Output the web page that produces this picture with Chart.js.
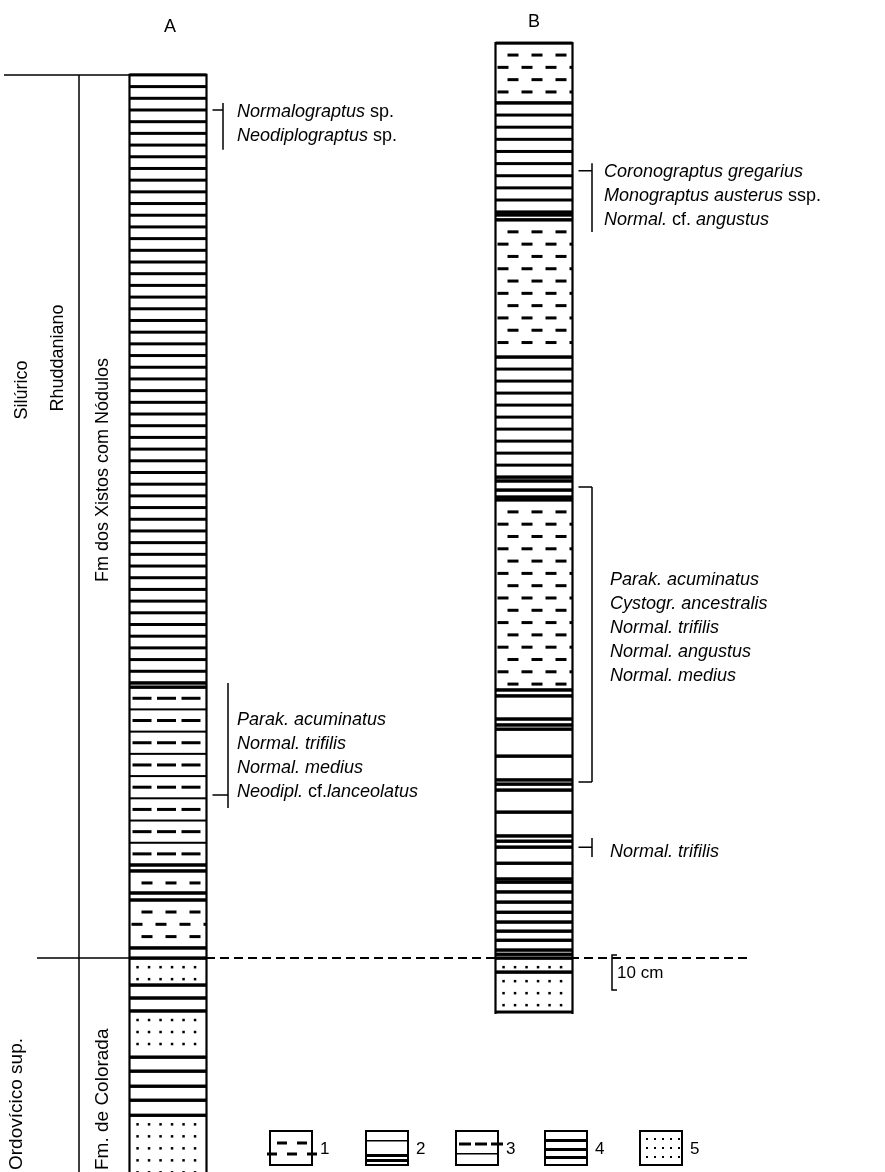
<!DOCTYPE html>
<html>
<head>
<meta charset="utf-8">
<script src="https://cdn.jsdelivr.net/npm/chart.js@4.4.1/dist/chart.umd.min.js"></script>
<style>
  html, body { margin: 0; padding: 0; background: #fff; }
  #wrap { width: 885px; height: 1172px; }
</style>
</head>
<body>
<div id="wrap"><canvas id="logChart" width="885" height="1172"></canvas></div>
<script>
// Stratigraphic logs A and B - heights in cm above the Ordovician/Silurian boundary
// lithology codes: 1..5 as in the legend
const columns = ['A', 'B'];

// unit boundaries, top to bottom (cm); unit i spans bounds[i] .. bounds[i+1]
const colA_bounds = [252.3, 78.6, 77.4, 26.6, 24.9, 18.6, 16.6, 2.9, 0, -7.7, -11.4, -15.1, -28.3, -32.3, -36.6, -40.6, -44.9, -63.4];
const colA_lith   = [4, 2, 3, 2, 1, 2, 1, 2, 5, 2, 2, 5, 2, 2, 2, 2, 5];

const colB_bounds = [261.4, 244.3, 213.1, 212.3, 210.9, 171.7, 137.4, 136.3, 133.7, 131.7, 130.9,
  76.6, 74.9, 68.3, 66.6, 65.4, 57.7, 50.9, 49.7, 48.0, 41.7, 34.9, 33.4, 31.7, 27.1, 22.6, 21.7,
  18.9, 16.0, 13.1, 10.3, 7.7, 5.1, 2.3, 1.1, 0, -4.0, -15.4];
const colB_lith   = [1, 4, 2, 2, 1, 4, 2, 2, 2, 2, 1,
  2, 2, 2, 2, 2, 2, 2, 2, 2, 2, 2, 2, 2, 2, 2, 2, 2, 2, 2, 2, 2, 2, 2, 2, 5, 5];

const lithLabels = ['1', '2', '3', '4', '5'];

// graptolite horizons (cm); a range has different top and base
const fossilCol  = ['A', 'A', 'B', 'B', 'B'];
const fossilTop  = [242.3, 46.6, 224.9, 134.6, 31.7];
const fossilBase = [242.3, 46.6, 224.9, 50.3, 31.7];
// *...* = italic part
const fossilTaxa = [
  ['*Normalograptus* sp.', '*Neodiplograptus* sp.'],
  ['*Parak. acuminatus*', '*Normal. trifilis*', '*Normal. medius*', '*Neodipl.* cf.*lanceolatus*'],
  ['*Coronograptus gregarius*', '*Monograptus austerus* ssp.', '*Normal.* cf. *angustus*'],
  ['*Parak. acuminatus*', '*Cystogr. ancestralis*', '*Normal. trifilis*', '*Normal. angustus*', '*Normal. medius*'],
  ['*Normal. trifilis*']
];

const periodLabels = ['Silúrico', 'Ordovícico sup.'];
const stageLabels = ['Rhuddaniano'];
const formationLabels = ['Fm dos Xistos com Nódulos', 'Fm. de Colorada'];
const scaleBarCm = 10;

// ---- layout (pixels / cm on the y scale) ----
const Y_MIN = -61.1, Y_MAX = 273.7;
const COL_X = { A: 168, B: 534 };
const COL_W = 77;
// bracket + label layout for each fossil group
const fossilBracket = [[244.3, 230.9], [78.6, 42.9], [227.1, 207.4], [134.6, 50.3], [34.3, 28.9]];
const fossilBracketX = [223, 228, 592, 592, 592];
const fossilTextX = [237, 237, 604, 610, 610];
const fossilTextY = [241.7, 68.0, 224.6, 108.0, 30.3];
const LINE_H = 24;
const FONT = '"Liberation Sans", Arial, sans-serif';

// ---- build datasets: one per lithology ----
function unitsOf(col, bounds, liths) {
  return liths.map((l, i) => ({ x: COL_X[col], y: [bounds[i + 1], bounds[i]], lith: l }));
}
const allUnits = unitsOf('A', colA_bounds, colA_lith).concat(unitsOf('B', colB_bounds, colB_lith));

const datasets = lithLabels.map((lab, k) => ({
  label: lab,
  lith: k + 1,
  data: allUnits.filter(u => u.lith === k + 1).map(u => ({ x: u.x, y: u.y })),
  backgroundColor: '#ffffff',
  borderWidth: 0,
  grouped: false,
  barThickness: COL_W
}));

// ---- pattern drawing ----
function dashRow(ctx, L, R, y, offset, len, period, thick) {
  for (let x = L + offset; x < R; x += period) ctx.fillRect(x, y - thick / 2, len, thick);
}
function drawLith(ctx, L, T, R, B, lith) {
  const h = B - T;
  ctx.save();
  ctx.beginPath(); ctx.rect(L, T, R - L, h); ctx.clip();
  ctx.fillStyle = '#000';
  if (lith === 1) {
    let row = 0;
    for (let y = T + 12; y < B - 3; y += 12.3, row++) dashRow(ctx, L, R, y, row % 2 ? 2 : 12, 11, 24, 3);
  } else if (lith === 3) {
    const n = Math.max(1, Math.round(h / 22.3)), step = h / n;
    for (let k = 0; k < n; k++) {
      if (k > 0) ctx.fillRect(L, T + k * step - 1, R - L, 2);
      dashRow(ctx, L, R, T + (k + 0.5) * step, 3, 19, 24.5, 3);
    }
  } else if (lith === 4) {
    const n = Math.max(1, Math.round(h / 11.6)), step = h / n;
    for (let k = 1; k < n; k++) ctx.fillRect(L, T + k * step - 1.5, R - L, 3);
  } else if (lith === 5) {
    for (let y = T + 9; y < B - 2; y += 12)
      for (let x = L + 8; x < R - 2; x += 11.5) ctx.fillRect(x - 1.2, y - 1.2, 2.5, 2.5);
  }
  ctx.restore();
  ctx.fillStyle = '#000';
  ctx.fillRect(L, T - 1.5, R - L, 3);
  ctx.fillRect(L, B - 1.5, R - L, 3);
}

const lithPlugin = {
  id: 'lith',
  beforeDatasetsDraw(chart) {
    const { ctx, scales: { x, y } } = chart;
    const y0 = y.getPixelForValue(0);
    ctx.save();
    ctx.strokeStyle = '#000';
    ctx.lineWidth = 2;
    ctx.setLineDash([9, 5]);
    ctx.beginPath(); ctx.moveTo(x.getPixelForValue(206), y0); ctx.lineTo(x.getPixelForValue(752), y0); ctx.stroke();
    ctx.restore();
  },
  afterDatasetsDraw(chart) {
    const { ctx } = chart;
    const ext = {};
    chart.data.datasets.forEach((ds, di) => {
      chart.getDatasetMeta(di).data.forEach(el => {
        const p = el.getProps(['x', 'y', 'base', 'width'], true);
        const L = p.x - p.width / 2, R = p.x + p.width / 2;
        const T = Math.min(p.y, p.base), B = Math.max(p.y, p.base);
        drawLith(ctx, L, T, R, B, ds.lith);
        const k = Math.round(p.x);
        if (!ext[k]) ext[k] = { L, R, T, B };
        ext[k].T = Math.min(ext[k].T, T); ext[k].B = Math.max(ext[k].B, B);
      });
    });
    // column outlines
    ctx.save();
    ctx.strokeStyle = '#000';
    ctx.lineWidth = 2.2;
    Object.values(ext).forEach(e => {
      ctx.beginPath();
      ctx.moveTo(e.L, e.B + 2); ctx.lineTo(e.L, e.T); ctx.lineTo(e.R, e.T); ctx.lineTo(e.R, e.B + 2);
      ctx.stroke();
    });
    ctx.restore();
  }
};

// mixed italic / roman text
function drawRich(ctx, str, x, y, size) {
  const parts = str.split('*');
  let cx = x;
  parts.forEach((s, i) => {
    if (!s) return;
    ctx.font = (i % 2 ? 'italic ' : '') + size + 'px ' + FONT;
    ctx.fillText(s, cx, y);
    cx += ctx.measureText(s).width;
  });
}
function vText(ctx, s, x, y, align, size) {
  ctx.save();
  ctx.translate(x, y);
  ctx.rotate(-Math.PI / 2);
  ctx.font = size + 'px ' + FONT;
  ctx.textAlign = align;
  ctx.textBaseline = 'middle';
  ctx.fillText(s, 0, 0);
  ctx.restore();
}

const annotPlugin = {
  id: 'annot',
  afterDraw(chart) {
    const { ctx, scales: { x, y } } = chart;
    ctx.save();
    ctx.fillStyle = '#000';
    ctx.strokeStyle = '#000';
    ctx.textBaseline = 'middle';

    // column headers
    ctx.font = '18px ' + FONT;
    ctx.textAlign = 'center';
    ctx.fillText(columns[0], x.getPixelForValue(COL_X.A + 2), 27);
    ctx.fillText(columns[1], x.getPixelForValue(COL_X.B), 22);
    ctx.textAlign = 'left';

    // left brackets
    const yTopA = y.getPixelForValue(colA_bounds[0]);
    const y0 = y.getPixelForValue(0);
    ctx.lineWidth = 1.5;
    ctx.beginPath();
    ctx.moveTo(4, yTopA); ctx.lineTo(129, yTopA);
    ctx.moveTo(79, yTopA); ctx.lineTo(79, 1172);
    ctx.moveTo(37, y0); ctx.lineTo(129, y0);
    ctx.stroke();

    vText(ctx, periodLabels[0], 22, 390, 'center', 18);
    vText(ctx, stageLabels[0], 58, 358, 'center', 18);
    vText(ctx, formationLabels[0], 103, 470, 'center', 18);
    vText(ctx, periodLabels[1], 17, 1170, 'left', 19);
    vText(ctx, formationLabels[1], 103, 1170, 'left', 19);

    // fossil brackets and names
    fossilTaxa.forEach((taxa, i) => {
      const col = fossilCol[i];
      const colR = x.getPixelForValue(COL_X[col]) + COL_W / 2;
      const bx = fossilBracketX[i];
      const yt = y.getPixelForValue(fossilTop[i]);
      const yb = y.getPixelForValue(fossilBase[i]);
      ctx.lineWidth = 1.5;
      ctx.beginPath();
      ctx.moveTo(bx, y.getPixelForValue(fossilBracket[i][0]));
      ctx.lineTo(bx, y.getPixelForValue(fossilBracket[i][1]));
      ctx.moveTo(colR + 6, yt); ctx.lineTo(bx, yt);
      if (yb !== yt) { ctx.moveTo(colR + 6, yb); ctx.lineTo(bx, yb); }
      ctx.stroke();
      const ty = y.getPixelForValue(fossilTextY[i]);
      taxa.forEach((t, j) => drawRich(ctx, t, fossilTextX[i], ty + j * LINE_H, 18));
    });

    // scale bar
    const sTop = y.getPixelForValue(0.9);
    const sBot = y.getPixelForValue(0.9 - scaleBarCm);
    ctx.lineWidth = 1.5;
    ctx.beginPath();
    ctx.moveTo(617, sTop); ctx.lineTo(612, sTop); ctx.lineTo(612, sBot); ctx.lineTo(617, sBot);
    ctx.stroke();
    ctx.font = '17px ' + FONT;
    ctx.fillText(scaleBarCm + ' cm', 617, (sTop + sBot) / 2 + 1);

    // legend
    const LX = [270, 366, 456, 545, 640], LT = 1131, LW = 42, LH = 34;
    lithLabels.forEach((lab, k) => {
      const L = LX[k], T = LT, R = L + LW, B = LT + LH;
      ctx.fillStyle = '#fff'; ctx.fillRect(L, T, LW, LH);
      ctx.fillStyle = '#000';
      if (k === 0) {
        dashRow(ctx, L, R - 4, T + 12, 7, 10, 20, 3);
        dashRow(ctx, L, R - 2, T + 23, -3, 10, 20, 3);
      } else if (k === 1) {
        ctx.fillRect(L, T + 9, LW, 1.5);
        ctx.fillRect(L, T + 23, LW, 3);
        ctx.fillRect(L, T + 28, LW, 3);
      } else if (k === 2) {
        dashRow(ctx, L, R - 3, T + 13, 3, 12, 16, 3);
        ctx.fillRect(L, T + 22, LW, 1.5);
      } else if (k === 3) {
        ctx.fillRect(L, T + 8, LW, 3);
        ctx.fillRect(L, T + 17, LW, 3);
        ctx.fillRect(L, T + 25, LW, 3);
      } else {
        for (let yy = T + 7; yy < B - 3; yy += 9)
          for (let xx = L + 6; xx < R - 3; xx += 8) ctx.fillRect(xx, yy, 2, 2);
      }
      ctx.lineWidth = 2;
      ctx.strokeRect(L, T, LW, LH);
      ctx.font = '17px ' + FONT;
      ctx.fillText(lab, R + 8, T + LH / 2 + 1);
    });
    ctx.restore();
  }
};

new Chart(document.getElementById('logChart').getContext('2d'), {
  type: 'bar',
  data: { datasets },
  options: {
    responsive: false,
    animation: false,
    devicePixelRatio: 1,
    layout: { padding: 0 },
    plugins: { legend: { display: false }, tooltip: { enabled: false } },
    scales: {
      x: { type: 'linear', min: 0, max: 885, offset: false, display: false },
      y: { type: 'linear', min: Y_MIN, max: Y_MAX, display: false }
    }
  },
  plugins: [lithPlugin, annotPlugin]
});
</script>
</body>
</html>
